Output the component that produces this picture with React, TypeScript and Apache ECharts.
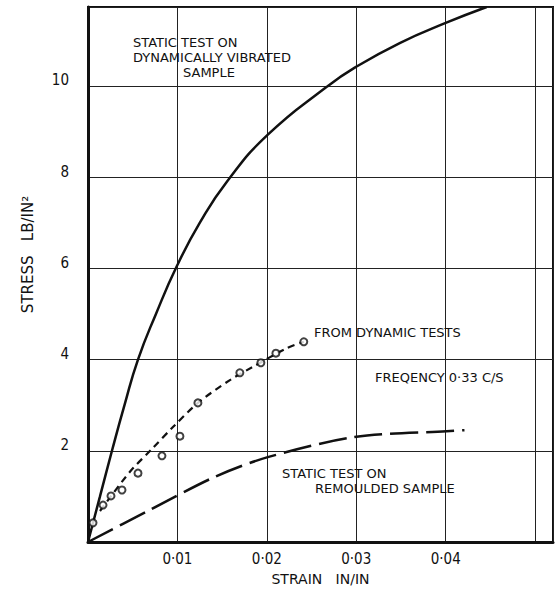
import React, { useEffect, useRef } from "react";
import * as echarts from "echarts";

// Axis ticks
const xTicks = [0.01, 0.02, 0.03, 0.04];
const yTicks = [2, 4, 6, 8, 10];
const xMax = 0.052;
const yMax = 11.73;

// Static test on dynamically vibrated sample (solid)
const vibratedStrain = [0, 0.00134, 0.00268, 0.00408, 0.00559, 0.0076, 0.00994, 0.01251, 0.01553, 0.02011, 0.0267, 0.02983, 0.03486, 0.04, 0.04458];
const vibratedStress = [0, 1, 2, 3, 4.0, 5, 6.05, 7, 7.9, 8.93, 9.98, 10.4, 10.94, 11.38, 11.73];

// From dynamic tests (measured circles)
const dynamicStrain = [0.00056, 0.00168, 0.00257, 0.0038, 0.00559, 0.00827, 0.01028, 0.01229, 0.01698, 0.01933, 0.02101, 0.02413];
const dynamicStress = [0.42, 0.81, 1.01, 1.14, 1.51, 1.89, 2.32, 3.05, 3.71, 3.93, 4.14, 4.39];

// From dynamic tests (fitted dashed curve)
const dynamicFitStrain = [0.00134, 0.00469, 0.00715, 0.0095, 0.01229, 0.01587, 0.01844, 0.02223, 0.02413];
const dynamicFitStress = [0.68, 1.54, 2.04, 2.52, 3.05, 3.55, 3.84, 4.25, 4.39];

// Static test on remoulded sample (long dashes)
const remouldedStrain = [0, 0.0069, 0.0142, 0.0201, 0.0298, 0.0401, 0.0421];
const remouldedStress = [0, 0.7, 1.43, 1.86, 2.3, 2.43, 2.45];

const zip = (xs: number[], ys: number[]) => xs.map((x, i) => [x, ys[i]]);
const isTick = (ticks: number[], v: number) => ticks.some((t) => Math.abs(t - v) < 1e-9);

const INK = "#111";
const TXT_FONT = '13px "DejaVu Sans", sans-serif';
const NUM_FONT = '"Liberation Sans Narrow", "DejaVu Sans Condensed", sans-serif';

export default function App() {
  const ref = useRef<HTMLDivElement>(null);
  useEffect(() => {
    const chart = echarts.init(ref.current!, null, { renderer: "svg" });
    const annotations = [
      { text: "STATIC TEST ON", x: 133, y: 42 },
      { text: "DYNAMICALLY VIBRATED", x: 133, y: 57 },
      { text: "SAMPLE", x: 183, y: 72 },
      { text: "FROM DYNAMIC TESTS", x: 314, y: 332 },
      { text: "FREQENCY 0·33 C/S", x: 375, y: 377 },
      { text: "STATIC TEST ON", x: 282, y: 473 },
      { text: "REMOULDED SAMPLE", x: 315, y: 488 },
    ];
    chart.setOption({
      animation: false,
      backgroundColor: "#fff",
      grid: {
        left: 88,
        right: 3,
        top: 7,
        bottom: 49,
        show: true,
        borderColor: INK,
        borderWidth: 2,
      },
      xAxis: {
        type: "value",
        min: 0,
        max: xMax,
        interval: 0.01,
        name: "STRAIN   IN/IN",
        nameLocation: "middle",
        nameGap: 30,
        nameTextStyle: { color: INK, fontFamily: '"DejaVu Sans", sans-serif', fontSize: 14 },
        axisLine: { show: true, lineStyle: { color: INK, width: 3 } },
        axisTick: { show: false },
        axisLabel: {
          margin: 9,
          color: INK,
          fontFamily: NUM_FONT,
          fontSize: 15,
          showMinLabel: false,
          showMaxLabel: false,
          formatter: (v: number) => (isTick(xTicks, v) ? "0·0" + Math.round(v * 100) : ""),
        },
        splitLine: { show: true, lineStyle: { color: "#222", width: 1 } },
      },
      yAxis: {
        type: "value",
        min: 0,
        max: yMax,
        interval: 2,
        name: "STRESS   LB/IN²",
        nameLocation: "middle",
        nameGap: 53,
        nameRotate: 90,
        nameTextStyle: {
          color: INK,
          fontFamily: '"DejaVu Sans", sans-serif',
          fontSize: 15,
          padding: [0, 0, 0, 40],
        },
        axisLine: { show: true, lineStyle: { color: INK, width: 3 } },
        axisTick: { show: false },
        axisLabel: {
          margin: 19,
          color: INK,
          fontFamily: NUM_FONT,
          fontSize: 15,
          verticalAlign: "bottom",
          lineHeight: 11,
          showMinLabel: false,
          showMaxLabel: false,
          formatter: (v: number) => (isTick(yTicks, v) ? String(v) : ""),
        },
        splitLine: { show: true, lineStyle: { color: "#222", width: 1 } },
      },
      series: [
        {
          name: "Static test on dynamically vibrated sample",
          type: "line",
          data: zip(vibratedStrain, vibratedStress),
          showSymbol: false,
          smooth: 0.5,
          lineStyle: { color: INK, width: 2.5 },
          z: 3,
        },
        {
          name: "From dynamic tests (curve)",
          type: "line",
          data: zip(dynamicFitStrain, dynamicFitStress),
          showSymbol: false,
          smooth: 0.3,
          lineStyle: { color: INK, width: 2.2, type: [7, 5] },
          z: 3,
        },
        {
          name: "From dynamic tests",
          type: "scatter",
          data: zip(dynamicStrain, dynamicStress),
          symbol: "emptyCircle",
          symbolSize: 7,
          itemStyle: { color: INK, borderColor: INK, borderWidth: 1.5 },
          z: 4,
        },
        {
          name: "Static test on remoulded sample",
          type: "line",
          data: zip(remouldedStrain, remouldedStress),
          showSymbol: false,
          smooth: 0.3,
          lineStyle: { color: INK, width: 2.5, type: [28, 8] },
          z: 3,
        },
      ],
      graphic: annotations.map((a) => ({
        type: "text",
        x: a.x,
        y: a.y,
        z: 10,
        style: { text: a.text, font: TXT_FONT, fill: INK, align: "left", verticalAlign: "middle" },
      })),
    });
    return () => chart.dispose();
  }, []);
  return (
    <div
      ref={ref}
      style={{ position: "fixed", left: 0, top: 0, width: 556, height: 591, background: "#fff" }}
    />
  );
}
